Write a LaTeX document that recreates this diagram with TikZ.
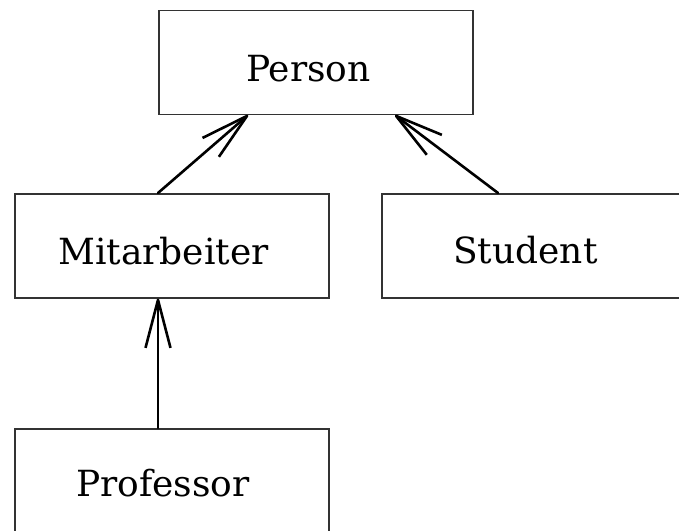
\documentclass[tikz,border=0pt]{standalone}
\usepackage{fontspec}
\setmainfont{DejaVu Serif}
\usetikzlibrary{arrows.meta,calc}

\tikzset{
  classbox/.style={draw=black!80, line width=1.6pt, rectangle, inner sep=0pt,
                   minimum width=314pt, minimum height=104pt, anchor=north west},
  classname/.style={inner sep=0pt, anchor=base west,
                    font=\fontsize{36}{40}\selectfont},
  inherit/.style={draw=black, line width=2.6pt, line cap=round,
                  -{Straight Barb[length=48pt, width=25pt, line join=round]}}
}

\begin{document}
\begin{tikzpicture}[x=1pt, y=-1pt]
  \useasboundingbox (0,0) rectangle (679,530);
  \clip (0,0) rectangle (679,530);

  % class boxes
  \node[classbox] (person) at (158,9.5) {};
  \node[classbox] (mitarb) at (14,193) {};
  \node[classbox] (student) at (381,193) {};
  \node[classbox] (prof) at (14,428) {};

  % class names
  \node[classname] (tperson) at (246,81) {Person};
  \node[classname] (tmitarb) at (58,264) {Mitarbeiter};
  \node[classname] (tstudent) at (453,263) {Student};
  \node[classname] (tprof) at (76,496) {Professor};

  % generalisation arrows
  \draw[inherit] ($(mitarb.north west)+(144,0)$) -- ($(person.south west)+(90,0)$);
  \draw[inherit] ($(student.north west)+(117,0)$) -- ($(person.south west)+(237,0)$);
  \draw[inherit] ($(prof.north west)+(144,0)$) -- ($(mitarb.south west)+(144,0)$);
\end{tikzpicture}
\end{document}
